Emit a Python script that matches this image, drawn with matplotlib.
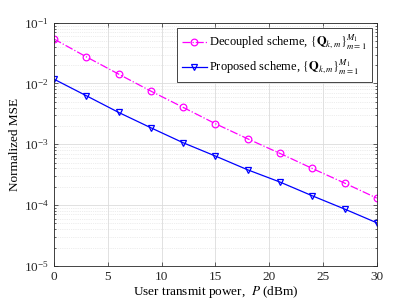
import matplotlib
matplotlib.use('Agg')
import matplotlib.pyplot as plt

# Data
power_dbm = [0, 3, 6, 9, 12, 15, 18, 21, 24, 27, 30]
mse_decoupled = [0.054, 0.0275, 0.0143, 0.0075, 0.00405, 0.00218, 0.00123,
                 0.000708, 0.0004, 0.00023, 0.00013]
mse_proposed = [0.0118, 0.0063, 0.00335, 0.00187, 0.00106, 0.00064, 0.00038,
                0.000239, 0.000142, 0.000086, 0.000051]
x_ticks = [0, 5, 10, 15, 20, 25, 30]

plt.rcParams['font.family'] = ['Liberation Serif', 'DejaVu Serif']
plt.rcParams['mathtext.fontset'] = 'stix'

fig = plt.figure(figsize=(4.15, 2.99), dpi=100)
ax = fig.add_axes([0.130, 0.111, 0.778, 0.813])

ax.semilogy(power_dbm, mse_decoupled, color='#FF00FF', linestyle='-.', linewidth=0.9,
            marker='o', markersize=4.8, markerfacecolor='none', markeredgewidth=0.9,
            label=r'Decoupled scheme, $\left\{\mathbf{Q}_{k,m}\right\}_{m=1}^{M_1}$')
ax.semilogy(power_dbm, mse_proposed, color='#0000FF', linestyle='-', linewidth=0.9,
            marker='v', markersize=4.8, markerfacecolor='none', markeredgewidth=0.9,
            label=r'Proposed scheme, $\left\{\mathbf{Q}_{k,m}\right\}_{m=1}^{M_1}$')

ax.set_xlim(0, 30)
ax.set_ylim(1e-5, 1e-1)
ax.set_xticks(x_ticks)

ax.grid(True, which='major', color='#dcdcdc', linewidth=0.6, linestyle='-')
ax.grid(True, which='minor', axis='y', color='#dcdcdc', linewidth=0.5, linestyle=':')
ax.set_axisbelow(True)

ax.tick_params(which='both', direction='in', top=True, right=True,
               labelsize=9.5, colors='#262626', width=0.5)
ax.tick_params(which='major', length=3)
ax.tick_params(which='minor', length=1.5)
for s in ax.spines.values():
    s.set_color('#262626')
    s.set_linewidth(0.6)

ax.set_xlabel(r'User transmit power,  $P$ (dBm)', fontsize=9.5, labelpad=1)
ax.set_ylabel('Normalized MSE', fontsize=9.5, labelpad=2)

leg = ax.legend(loc='upper right', fontsize=9, fancybox=False, framealpha=1,
                edgecolor='#262626', borderaxespad=0.4, handlelength=2.0,
                handletextpad=0.2, labelspacing=0.4, borderpad=0.4)
leg.get_frame().set_linewidth(0.6)

plt.savefig('out.png', dpi=100)
